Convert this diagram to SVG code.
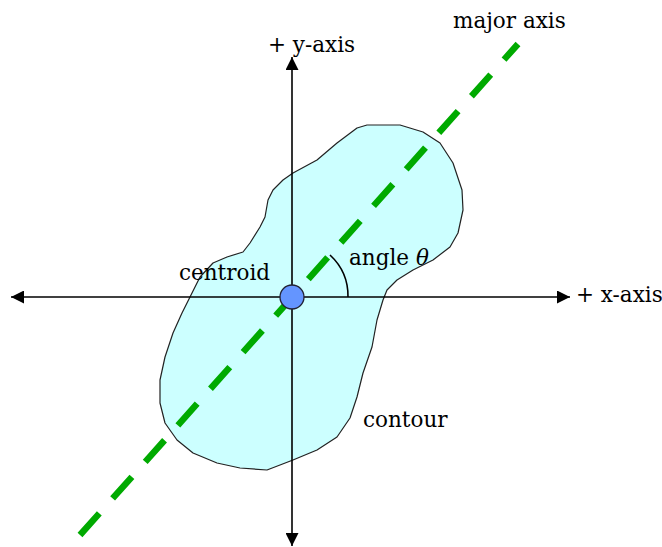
<svg xmlns="http://www.w3.org/2000/svg" width="662" height="547" viewBox="0 0 662 547">
<style>
.lbl{font-family:"DejaVu Serif","Liberation Serif",serif;font-size:21.5px;fill:#000}
.axis{stroke:#000;stroke-width:1.6;fill:none}
.major{stroke:#00AA00;stroke-width:6.5;stroke-dasharray:29 20;fill:none}
</style>
<defs>
<marker id="arr" viewBox="0 0 13 13" refX="13" refY="6.5" markerWidth="13" markerHeight="13" markerUnits="userSpaceOnUse" orient="auto">
<path d="M0,0 L13,6.5 L0,13 Z" fill="#000"/>
</marker>
</defs>
<rect width="662" height="547" fill="#fff"/>
<g id="contour">
<path d="M367,125 L400,125 L423,132 L440,143 L453,163 L462,190 L463,210 L458,233 L450,247 L433,260 L413,270 L397,280 L387,290 L383,300 L377,320 L372,347 L363,373 L357,397 L350,418 L337,437 L317,450 L293,460 L267,470 L240,468 L217,463 L193,453 L177,440 L165,423 L160,403 L160,380 L165,357 L173,333 L182,313 L190,297 L200,277 L213,263 L227,257 L243,252 L250,243 L260,227 L265,217 L268,200 L273,190 L283,180 L293,173 L317,160 L337,143 L357,128 Z" fill="#CCFFFF" stroke="#222" stroke-width="1.2" stroke-linejoin="round"/>
</g>
<g id="connectors">
<line class="axis" x1="292" y1="297" x2="570" y2="297" marker-end="url(#arr)"/>
<line class="axis" x1="292" y1="297" x2="11" y2="297" marker-end="url(#arr)"/>
<line class="axis" x1="292" y1="297" x2="292" y2="57" marker-end="url(#arr)"/>
<line class="axis" x1="292" y1="297" x2="292" y2="546" marker-end="url(#arr)"/>
<line class="major" x1="80" y1="535" x2="518" y2="44"/>
<path class="axis" d="M330,255 A56,56 0 0,1 348,297" stroke-width="1.2"/>
</g>
<g id="centroid">
<circle cx="292" cy="297" r="12" fill="#6495FF" stroke="#223" stroke-width="1.3"/>
</g>
<g id="labels">
<text class="lbl" x="453" y="28">major axis</text>
<text class="lbl" x="268" y="52">+ y-axis</text>
<text class="lbl" x="576" y="302">+ x-axis</text>
<text class="lbl" x="179" y="280">centroid</text>
<text class="lbl" x="349" y="265">angle <tspan font-style="italic">θ</tspan></text>
<text class="lbl" x="363" y="427">contour</text>
</g>
</svg>
